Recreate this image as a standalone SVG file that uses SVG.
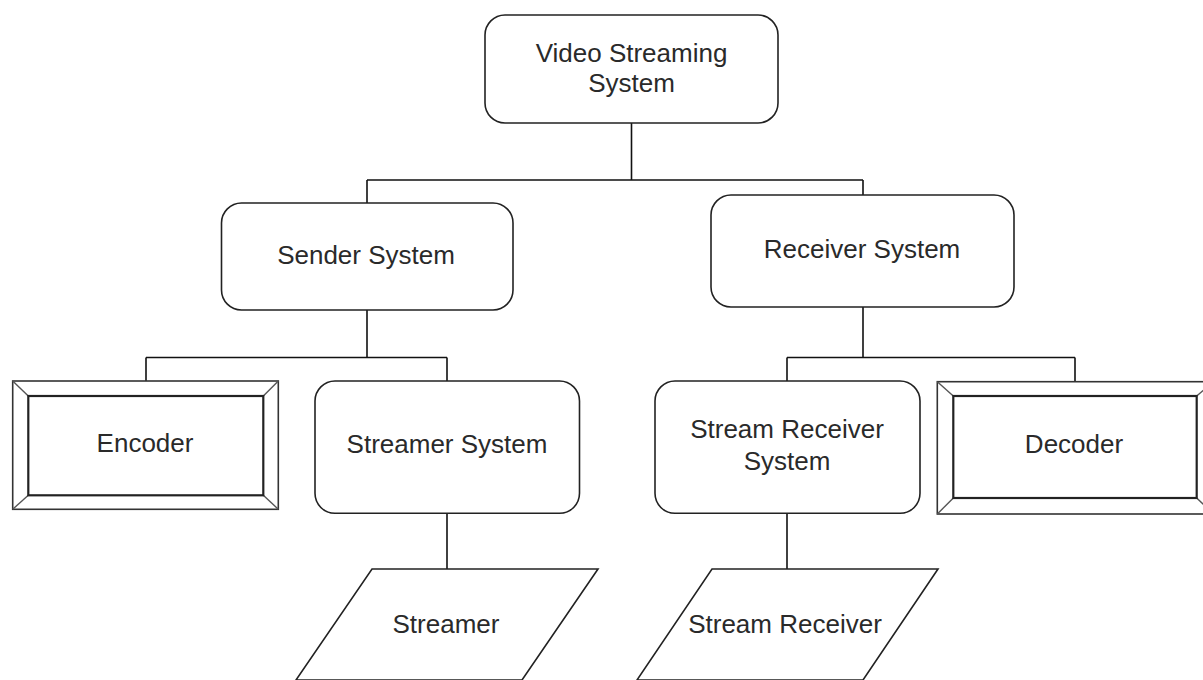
<svg xmlns="http://www.w3.org/2000/svg" width="1203" height="680" viewBox="0 0 1203 680">
  <style>
    .box { fill: #ffffff; stroke: #222222; stroke-width: 1.6; }
    .conn { fill: none; stroke: #111111; stroke-width: 1.6; }
    .bev-outer { fill: #ffffff; stroke: #333333; stroke-width: 1.6; }
    .bev-inner { fill: #ffffff; stroke: #222222; stroke-width: 2.2; }
    .bev-edge { stroke: #555555; stroke-width: 1.4; }
    .label { font-family: "Liberation Sans", Arial, sans-serif; font-size: 26px; fill: #2a2a2a; text-anchor: middle; }
  </style>

  <!-- tree connectors -->
  <g id="connectors">
    <path class="conn" d="M631.5,123 V180 M367,180 H863 M367,180 V203 M863,180 V195"/>
    <path class="conn" d="M367,310 V357.5 M146,357.5 H447 M146,357.5 V381 M447,357.5 V381"/>
    <path class="conn" d="M863,307 V357.5 M787,357.5 H1075 M787,357.5 V381 M1075,357.5 V382"/>
    <path class="conn" d="M447,513 V569"/>
    <path class="conn" d="M787,513 V569"/>
  </g>

  <g id="video-streaming-system">
    <rect class="box" x="485" y="15" width="293" height="108" rx="20" ry="20"/>
    <text class="label" x="631.5" y="62">Video Streaming</text>
    <text class="label" x="631.5" y="92">System</text>
  </g>

  <g id="sender-system">
    <rect class="box" x="221.5" y="203" width="291.5" height="107" rx="20" ry="20"/>
    <text class="label" x="366" y="264">Sender System</text>
  </g>

  <g id="receiver-system">
    <rect class="box" x="711" y="195" width="303" height="112" rx="20" ry="20"/>
    <text class="label" x="862" y="258">Receiver System</text>
  </g>

  <g id="encoder">
    <rect class="bev-outer" x="12.7" y="381" width="265.6" height="128.3"/>
    <line class="bev-edge" x1="12.7" y1="381" x2="28.3" y2="396"/>
    <line class="bev-edge" x1="278.3" y1="381" x2="263.3" y2="396"/>
    <line class="bev-edge" x1="12.7" y1="509.3" x2="28.3" y2="495.3"/>
    <line class="bev-edge" x1="278.3" y1="509.3" x2="263.3" y2="495.3"/>
    <rect class="bev-inner" x="28.3" y="396" width="235" height="99.3"/>
    <text class="label" x="145" y="452">Encoder</text>
  </g>

  <g id="streamer-system">
    <rect class="box" x="315" y="381" width="264.5" height="132.3" rx="20" ry="20"/>
    <text class="label" x="447" y="453">Streamer System</text>
  </g>

  <g id="stream-receiver-system">
    <rect class="box" x="655" y="381" width="265" height="132.3" rx="20" ry="20"/>
    <text class="label" x="787" y="438">Stream Receiver</text>
    <text class="label" x="787" y="470">System</text>
  </g>

  <g id="decoder">
    <rect class="bev-outer" x="937.3" y="381.7" width="276" height="132.3"/>
    <line class="bev-edge" x1="937.3" y1="381.7" x2="953.3" y2="396"/>
    <line class="bev-edge" x1="1213.3" y1="381.7" x2="1196.7" y2="396"/>
    <line class="bev-edge" x1="937.3" y1="514" x2="953.3" y2="498"/>
    <line class="bev-edge" x1="1213.3" y1="514" x2="1196.7" y2="498"/>
    <rect class="bev-inner" x="953.3" y="396" width="243.4" height="102"/>
    <text class="label" x="1074" y="453">Decoder</text>
  </g>

  <g id="streamer">
    <polygon class="box" points="372,569 598,569 522,680 296,680"/>
    <text class="label" x="446" y="633">Streamer</text>
  </g>

  <g id="stream-receiver">
    <polygon class="box" points="712,569 938,569 863,680 637,680"/>
    <text class="label" x="785" y="633">Stream Receiver</text>
  </g>
</svg>
